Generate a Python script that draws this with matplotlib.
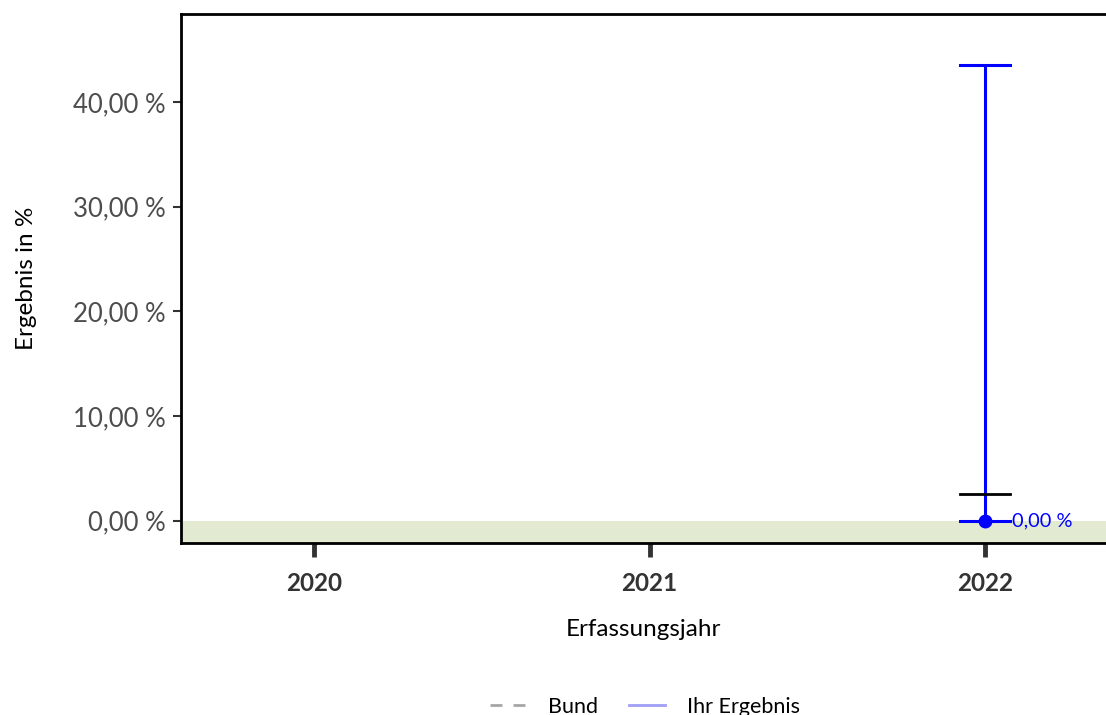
import numpy as np
import matplotlib
matplotlib.use("Agg")
import matplotlib.pyplot as plt
from matplotlib.lines import Line2D

years = [2020, 2021, 2022]
result = [np.nan, np.nan, 0.0]
ci_lower = [np.nan, np.nan, 0.0]
ci_upper = [np.nan, np.nan, 43.5]
reference = [np.nan, np.nan, 2.5]
yticks = [0, 10, 20, 30, 40]
ytick_labels = ["0,00 %", "10,00 %", "20,00 %", "30,00 %", "40,00 %"]

plt.rcParams['font.family'] = ['Lato', 'DejaVu Sans']

W, H = 1106, 715
fig = plt.figure(figsize=(W / 100, H / 100), dpi=100)
ax = fig.add_axes([181 / W, 1 - 543 / H, (W - 181) / W, (543 - 14) / H])

ax.set_xlim(2019.604, 2022.36)
ax.set_ylim(-2.15, 48.41)

ax.axhspan(-10, 0, color="#e2ebd2", zorder=0, lw=0)

cap = 0.0745
for x, y, lo, hi, ref in zip(years, result, ci_lower, ci_upper, reference):
    if np.isnan(y):
        continue
    ax.plot([x, x], [lo, hi], color="#0000ff", lw=2.2, zorder=3, solid_capstyle="butt")
    ax.plot([x - cap, x + cap], [hi, hi], color="#0000ff", lw=2.2, zorder=3)
    ax.plot([x - cap, x + cap], [lo, lo], color="#0000ff", lw=2.2, zorder=3)
    ax.plot([x - cap, x + cap], [ref, ref], color="black", lw=2.0, zorder=3)
    ax.plot([x], [y], marker="o", color="#0000ff", ms=9, zorder=4)
    ax.text(x + cap + 0.005, y, f"{y:.2f} %".replace(".", ","), color="#0000ff",
            fontsize=14.4, va="center", ha="left", zorder=5)

ax.set_yticks(yticks)
ax.set_yticklabels(ytick_labels, fontsize=18.5, color="#4d4d4d")
ax.set_xticks(years)
ax.set_xticklabels([str(y) for y in years], fontsize=17.5, fontweight="bold", color="#333333")
ax.tick_params(axis="y", length=6, width=1.5, color="#333333", pad=5)
ax.tick_params(axis="x", length=10, width=3.5, color="#333333", pad=11)

for s in ["left", "top", "bottom"]:
    ax.spines[s].set_linewidth(2)
    ax.spines[s].set_color("black")
ax.spines["right"].set_visible(False)

ax.set_xlabel("Erfassungsjahr", fontsize=17.5, labelpad=17)
ax.set_ylabel("Ergebnis in %", fontsize=17.5, labelpad=26)

handles = [
    Line2D([], [], color="#a6a6a6", lw=2, ls=(0, (4.3, 4))),
    Line2D([], [], color="#9f9ff5", lw=2),
]
fig.legend(handles, ["Bund", "Ihr Ergebnis"], loc="center", bbox_to_anchor=(645 / W, 1 - 707 / H),
           ncol=2, frameon=False, fontsize=15.5, handlelength=1.7, columnspacing=1.4, handletextpad=1.0)

fig.savefig("out.png", dpi=100)
